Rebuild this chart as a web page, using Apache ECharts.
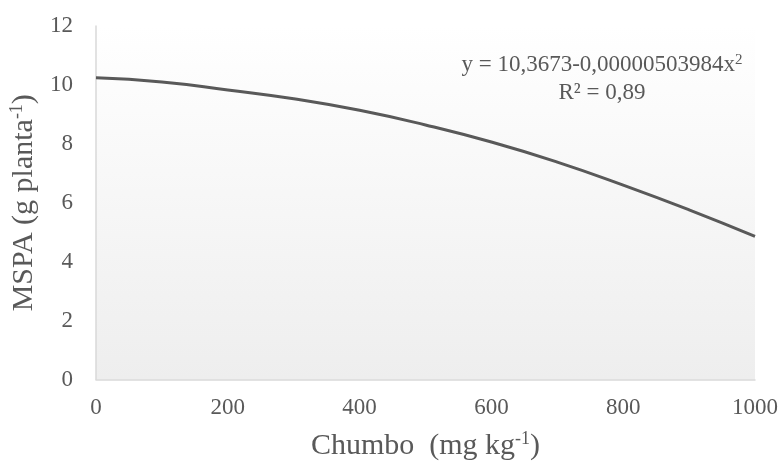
<!DOCTYPE html>
<html>
<head>
<meta charset="utf-8">
<script src="https://cdn.jsdelivr.net/npm/echarts@6/dist/echarts.min.js"></script>
<style>
html,body{margin:0;padding:0;background:#fff;}
#chart{width:782px;height:466px;}
</style>
</head>
<body>
<div id="chart"></div>
<script>
// Chumbo (mg kg-1) doses and MSPA values
const leadDoses = [0, 100, 200, 300, 400, 500, 600, 700, 800, 900, 1000];
const mspaValues = [10.24, 10.10, 9.83, 9.53, 9.14, 8.64, 8.06, 7.38, 6.60, 5.76, 4.86];
const xTicks = [0, 200, 400, 600, 800, 1000];
const yTicks = [0, 2, 4, 6, 8, 10, 12];
const equationText = 'y = 10,3673-0,00000503984x{sup|2}';
const r2Text = 'R² = 0,89';

const chart = echarts.init(document.getElementById('chart'), null, {renderer: 'canvas'});
const serif = '"Liberation Serif", "DejaVu Serif", serif';
const textColor = '#595959';

chart.setOption({
  animation: false,
  backgroundColor: '#ffffff',
  grid: {
    left: 96, right: 27, top: 26, bottom: 84,
    show: true,
    borderWidth: 0,
    backgroundColor: new echarts.graphic.LinearGradient(0, 0, 0, 1, [
      {offset: 0, color: '#ffffff'},
      {offset: 1, color: '#eeeeee'}
    ])
  },
  xAxis: {
    type: 'value',
    min: xTicks[0], max: xTicks[xTicks.length - 1], interval: xTicks[1] - xTicks[0],
    axisLine: {show: true, lineStyle: {color: '#d9d9d9', width: 1.5}},
    axisTick: {show: false},
    splitLine: {show: false},
    axisLabel: {color: textColor, fontFamily: serif, fontSize: 23, margin: 17, formatter: v => String(v)},
    name: 'Chumbo  (mg kg{sup|-1})',
    nameLocation: 'middle',
    nameGap: 51,
    nameTextStyle: {
      color: textColor, fontFamily: serif, fontSize: 30,
      rich: {sup: {fontSize: 18, verticalAlign: 'top', color: textColor, fontFamily: serif, padding: [0, 0, 13, 0]}}
    }
  },
  yAxis: {
    type: 'value',
    min: yTicks[0], max: yTicks[yTicks.length - 1], interval: yTicks[1] - yTicks[0],
    axisLine: {show: true, lineStyle: {color: '#d9d9d9', width: 1.5}},
    axisTick: {show: false},
    splitLine: {show: false},
    axisLabel: {color: textColor, fontFamily: serif, fontSize: 23, margin: 23},
    name: 'MSPA (g planta{sup|-1})',
    nameLocation: 'middle',
    nameGap: 54,
    nameRotate: 90,
    nameTextStyle: {
      color: textColor, fontFamily: serif, fontSize: 30,
      rich: {sup: {fontSize: 18, verticalAlign: 'top', color: textColor, fontFamily: serif, padding: [0, 0, 13, 0]}}
    }
  },
  graphic: [
    {
      type: 'text',
      x: 602, y: 65,
      style: {
        text: equationText,
        fill: textColor,
        font: '23px ' + serif,
        textAlign: 'center',
        textVerticalAlign: 'middle',
        rich: {sup: {fontSize: 15, fontFamily: serif, fill: textColor, padding: [0, 0, 10, 0]}}
      }
    },
    {
      type: 'text',
      x: 602, y: 93,
      style: {
        text: r2Text,
        fill: textColor,
        font: '23px ' + serif,
        textAlign: 'center',
        textVerticalAlign: 'middle'
      }
    }
  ],
  series: [{
    type: 'line',
    data: leadDoses.map((d, i) => [d, mspaValues[i]]),
    smooth: true,
    showSymbol: false,
    lineStyle: {color: '#595959', width: 3},
    itemStyle: {color: '#595959'}
  }]
});
</script>
</body>
</html>
